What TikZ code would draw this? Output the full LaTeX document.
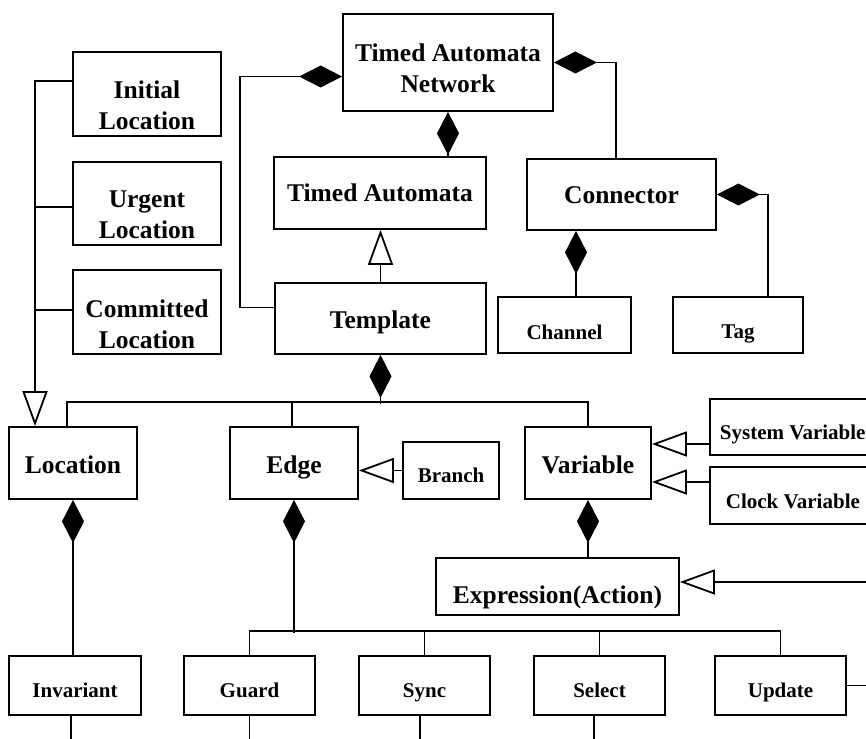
\documentclass[tikz,border=0pt]{standalone}
\usepackage{fontspec}
\setmainfont{Liberation Serif}
\usetikzlibrary{arrows.meta}
% place text with its visual centre shifted by #1 from the node centre
\newcommand\lift[2]{\raisebox{#1}[0pt][0pt]{\raisebox{-.5\height}{#2}}}
\newcommand\two[2]{\begin{tabular}[b]{@{}c@{}}#1\\#2\end{tabular}}
\begin{document}
\begin{tikzpicture}[x=1pt,y=-1pt,
  line width=1.8pt, line join=miter,
  box/.style={draw, inner sep=0pt, font=\bfseries\fontsize{25.5}{31}\selectfont},
  sbox/.style={box, font=\bfseries\fontsize{21}{25}\selectfont},
  comp/.style={arrows={Diamond[length=43pt,width=22pt]-}},
  gen/.style={arrows={-Triangle[open,length=35pt,width=25pt]}},
]
\useasboundingbox (0,0) rectangle (866,738);
\clip (0,0) rectangle (866,738);

% classes
\node[box, minimum width=210pt, minimum height=97pt] (tan) at (448,62.5) {\lift{-3.5pt}{\two{Timed Automata}{Network}}};
\node[box, minimum width=148pt, minimum height=84pt] (initial) at (147,94) {\lift{-9pt}{\two{Initial}{Location}}};
\node[box, minimum width=148pt, minimum height=83pt] (urgent) at (147,203.5) {\lift{-9pt}{\two{Urgent}{Location}}};
\node[box, minimum width=148pt, minimum height=84pt] (committed) at (147,312) {\lift{-10pt}{\two{Committed}{Location}}};
\node[box, minimum width=212pt, minimum height=72pt] (ta) at (380,193) {\lift{0pt}{Timed Automata}};
\node[box, minimum width=189pt, minimum height=71pt] (conn) at (621.5,194.5) {\lift{-1pt}{Connector}};
\node[box, minimum width=211pt, minimum height=71pt] (templ) at (380.5,318.5) {\lift{-1.5pt}{Template}};
\node[sbox, minimum width=133pt, minimum height=56pt] (channel) at (564.5,325) {\lift{-7pt}{Channel}};
\node[sbox, minimum width=130pt, minimum height=56pt] (tag) at (738,325) {\lift{-7pt}{Tag}};
\node[box, minimum width=128pt, minimum height=72pt] (loc) at (73,463) {\lift{-1.5pt}{Location}};
\node[box, minimum width=128pt, minimum height=72pt] (edge) at (294,463) {\lift{-1.5pt}{Edge}};
\node[sbox, minimum width=96pt, minimum height=57pt] (branch) at (451,470.5) {\lift{-5pt}{Branch}};
\node[box, minimum width=126pt, minimum height=72pt] (var) at (588,463) {\lift{-1.5pt}{Variable}};
\node[sbox, anchor=west, minimum height=56pt, inner xsep=10pt] (sysv) at (709,427) {\lift{-5.5pt}{\makebox[190pt][l]{System Variable}}};
\node[sbox, anchor=west, minimum height=57pt, inner xsep=10pt] (clockv) at (709,495.5) {\lift{-6pt}{\makebox[190pt][l]{\hspace*{6pt}Clock Variable}}};
\node[box, minimum width=243pt, minimum height=57pt] (expr) at (557.5,586.5) {\lift{-8.5pt}{Expression(Action)}};
\node[sbox, minimum width=132pt, minimum height=59pt] (inv) at (75,685.5) {\lift{-5pt}{Invariant}};
\node[sbox, minimum width=131pt, minimum height=59pt] (guard) at (249.5,685.5) {\lift{-5pt}{Guard}};
\node[sbox, minimum width=131pt, minimum height=59pt] (sync) at (424.5,685.5) {\lift{-5pt}{Sync}};
\node[sbox, minimum width=131pt, minimum height=59pt] (select) at (599.5,685.5) {\lift{-5pt}{Select}};
\node[sbox, minimum width=131pt, minimum height=59pt] (update) at (780.5,685.5) {\lift{-5pt}{Update}};

% network composition
\draw[comp] ([yshift=-14pt]tan.west) -- ++(-102,0) |- ([yshift=11pt]templ.west);
\draw[comp] (tan.east) -| ([xshift=-5.5pt]conn.north);
\draw[comp] (tan.south) -- (tan.south |- ta.north);
\draw[gen] (templ.north) -- (templ.north |- ta.south);

% connector parts
\coordinate (cb) at ([xshift=-45.5pt]conn.south);
\draw[comp] (cb) -- (cb |- channel.north);
\draw[comp] (conn.east) -| ([xshift=30pt]tag.north);

% kinds of location
\draw[gen] ([yshift=13pt]initial.west) -| ([xshift=-38pt]loc.north);
\draw ([yshift=-3.5pt]urgent.west) -- ++(-38,0);
\draw ([yshift=2pt]committed.west) -- ++(-38,0);

% template parts
\draw[comp] (templ.south) -- ++(0,49);
\draw ([xshift=-6pt]loc.north) -- ++(0,-24) -| (var.north);
\draw ([xshift=-2pt]edge.north) -- ++(0,-24);

% specialisations
\draw[gen] (branch.west) -- (branch.west -| edge.east);
\coordinate (vs) at ([yshift=19pt]var.east);
\draw[gen] (vs -| sysv.west) -- (vs);
\coordinate (vc) at ([yshift=-19pt]var.east);
\draw[gen] (vc -| clockv.west) -- (vc);

% variable and expression
\draw[comp] (var.south) -- (var.south |- expr.north);
\coordinate (ein) at ([yshift=4.5pt]expr.east);
\coordinate (eout) at (880,582);
\draw[gen] (eout) -- (ein);

% location and edge parts
\draw[comp] (loc.south) -- (loc.south |- inv.north);
\draw[comp] (edge.south) -- ++(0,133);
\draw (guard.north) -- ++(0,-24) -| (update.north);
\draw (sync.north) -- ++(0,-24);
\draw (select.north) -- ++(0,-24);

% links leaving the frame
\draw ([xshift=-4pt]inv.south) -- ++(0,40);
\draw (guard.south) -- ++(0,40);
\draw ([xshift=-4.5pt]sync.south) -- ++(0,40);
\draw ([xshift=-5.5pt]select.south) -- ++(0,40);
\draw (update.east) -- ++(40,0);
\end{tikzpicture}
\end{document}
